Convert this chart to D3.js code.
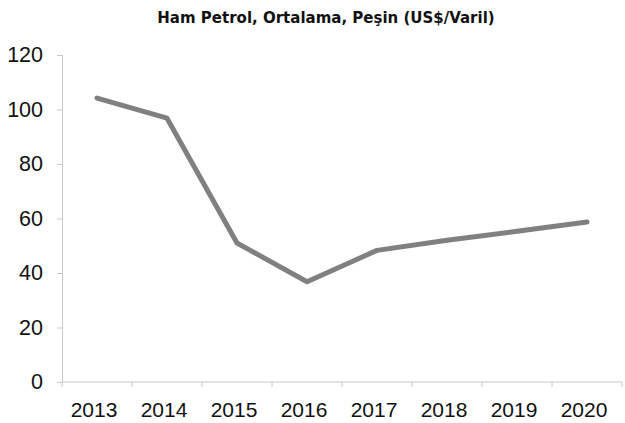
<!DOCTYPE html>
<html>
<head>
<meta charset="utf-8">
<script src="https://cdn.jsdelivr.net/npm/d3@7"></script>
<style>
  body { margin: 0; background: #fff; }
  svg text { font-family: "Liberation Sans", Arial, sans-serif; }
</style>
</head>
<body>
<svg width="625" height="423"></svg>
<script>
var title = "Ham Petrol, Ortalama, Peşin (US$/Varil)";
var years = ["2013", "2014", "2015", "2016", "2017", "2018", "2019", "2020"];
var prices = [104.2, 96.8, 51, 36.8, 48.3, 52, 55.3, 58.7];
var yTicks = [0, 20, 40, 60, 80, 100, 120];

var svg = d3.select("svg"),
    margin = {top: 55, right: 3, bottom: 41, left: 62},
    width = 625 - margin.left - margin.right,
    height = 423 - margin.top - margin.bottom;

svg.append("text")
    .attr("x", 326)
    .attr("y", 23)
    .attr("text-anchor", "middle")
    .style("font-family", "'DejaVu Sans', Verdana, sans-serif")
    .style("font-weight", "bold")
    .style("font-size", "15px")
    .style("fill", "#111")
    .text(title);

var g = svg.append("g").attr("transform", "translate(" + margin.left + "," + margin.top + ")");

var x = d3.scaleBand().domain(years).range([0, width]);
var y = d3.scaleLinear().domain([0, 120]).range([height, 0]);

var yAxis = g.append("g")
    .call(d3.axisLeft(y).tickValues(yTicks).tickSize(5).tickPadding(14));
yAxis.select(".domain").attr("stroke", "#c8c8c8");
yAxis.selectAll(".tick line").attr("stroke", "#c8c8c8");
yAxis.selectAll("text").style("font-size", "21.5px").style("fill", "#111");

// x axis ticks sit on band edges
var xAxis = g.append("g").attr("transform", "translate(0," + height + ")");
xAxis.append("line")
    .attr("x1", 0).attr("x2", width)
    .attr("stroke", "#c8c8c8");
xAxis.selectAll(".edge")
    .data(years.concat(["end"]))
    .enter().append("line")
    .attr("x1", function(d, i) { return i * x.bandwidth(); })
    .attr("x2", function(d, i) { return i * x.bandwidth(); })
    .attr("y1", 0).attr("y2", 5)
    .attr("stroke", "#c8c8c8");
xAxis.selectAll(".lbl")
    .data(years)
    .enter().append("text")
    .attr("x", function(d) { return x(d) + x.bandwidth() / 2 - 3; })
    .attr("y", 35)
    .attr("text-anchor", "middle")
    .style("font-size", "21px")
    .style("fill", "#111")
    .text(function(d) { return d; });

var line = d3.line()
    .x(function(d, i) { return x(years[i]) + x.bandwidth() / 2; })
    .y(function(d) { return y(d); });

g.append("path")
    .datum(prices)
    .attr("fill", "none")
    .attr("stroke", "#808080")
    .attr("stroke-width", 5)
    .attr("stroke-linejoin", "round")
    .attr("stroke-linecap", "round")
    .attr("d", line);
</script>
</body>
</html>
